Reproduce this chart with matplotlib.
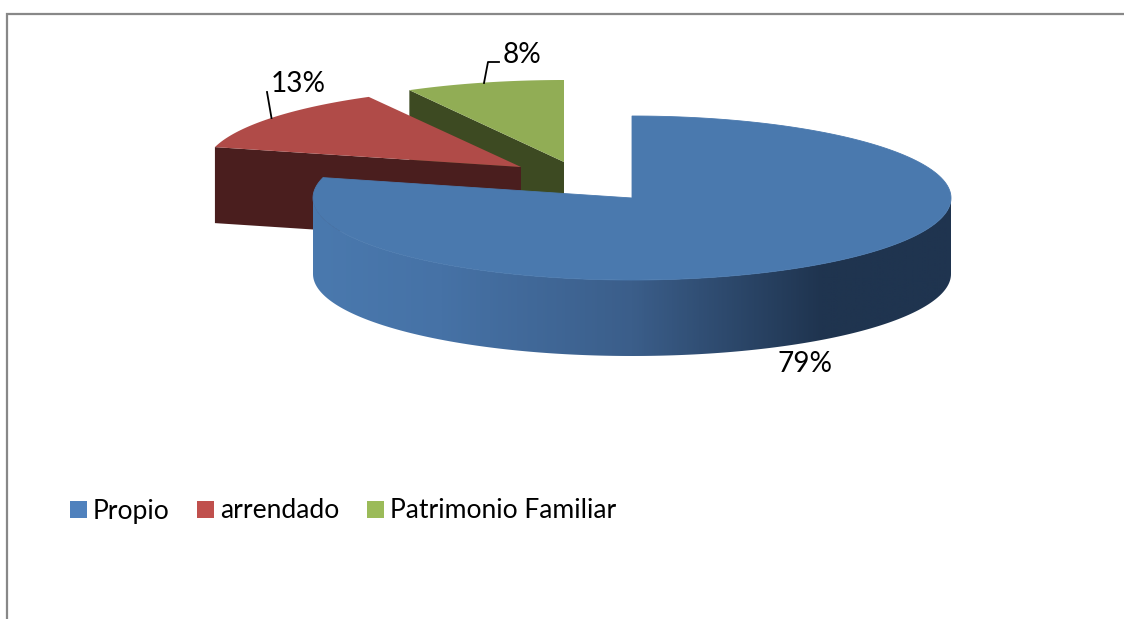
import numpy as np
import matplotlib.pyplot as plt
from matplotlib.colors import LinearSegmentedColormap
from matplotlib.patches import Patch, Polygon

plt.rcParams['font.family'] = ['Lato', 'DejaVu Sans']

categorias = ["Propio", "arrendado", "Patrimonio Familiar"]
valores = [79, 13, 8]
etiquetas = ["79%", "13%", "8%"]

color_top = ["#4a79ae", "#b04b48", "#91ad55"]
color_cut = ["#4a79ae", "#4a1e1e", "#3d4a22"]
color_leyenda = ["#4f81bd", "#c0504d", "#9bbb59"]

# centro y radios de cada porcion (separadas), en pixeles
centros = [(632, 198), (521, 167), (564, 162)]
radios = [(319, 82), (316, 80), (321, 82)]
alto = 76


def punto(i, grados):
    a = np.radians(grados)
    c, (rx, ry) = centros[i], radios[i]
    return c[0] + rx * np.sin(a), c[1] - ry * np.cos(a)


def arco(i, g0, g1):
    g = np.linspace(g0, g1, 200)
    x, y = punto(i, g)
    return np.column_stack([x, y])


fig = plt.figure(figsize=(11.24, 6.19), dpi=100)
ax = fig.add_axes([0, 0, 1, 1])

limites = np.cumsum([0] + valores) / sum(valores) * 360

# verde y rojo primero, el azul queda delante
for i in [2, 1]:
    c = centros[i]
    g0, g1 = limites[i], limites[i + 1]
    x0, y0 = punto(i, g0)
    corte = [(x0, y0), c, (c[0], c[1] + alto), (x0, y0 + alto)]
    ax.add_patch(Polygon(corte, closed=True, fc=color_cut[i], ec="none", zorder=i * -2 + 6))
    tapa = np.vstack([[c], arco(i, g0, g1)])
    ax.add_patch(Polygon(tapa, closed=True, fc=color_top[i], ec="none", zorder=i * -2 + 7))

# lateral azul con degradado
c = centros[0]
rx, ry = radios[0]
arriba = arco(0, 90, 270)
abajo = arriba[::-1] + [0, alto]
lateral = Polygon(np.vstack([arriba, abajo]), closed=True, fc="none", ec="none", zorder=8)
ax.add_patch(lateral)
cmap = LinearSegmentedColormap.from_list(
    "lado",
    [(0, "#4a79ae"), (0.2, "#4672a6"), (0.5, "#3b5e8a"), (0.8, "#1f344f"), (1, "#1f344f")],
)
grad = ax.imshow(np.linspace(0, 1, 640).reshape(1, -1), cmap=cmap, aspect="auto",
                 extent=(c[0] - rx, c[0] + rx, c[1] + ry + alto + 2, c[1] - 2), zorder=8)
grad.set_clip_path(lateral)

tapa = np.vstack([[c], arco(0, limites[0], limites[1])])
ax.add_patch(Polygon(tapa, closed=True, fc=color_top[0], ec="#4a79ae", lw=0.6, zorder=9))

# etiquetas y lineas guia
ax.text(805, 364, etiquetas[0], fontsize=20.2, ha="center", va="center", color="black", zorder=10)
ax.text(298, 84, etiquetas[1], fontsize=20.2, ha="center", va="center", color="black", zorder=10)
ax.text(522, 55, etiquetas[2], fontsize=20.2, ha="center", va="center", color="black", zorder=10)
ax.plot([267, 271.5], [92, 118], color="black", lw=1.3, zorder=10)
ax.plot([484, 488, 499], [83, 62, 62], color="black", lw=1.3, zorder=10)

# marco gris de la imagen
ax.plot([7, 7, 1124], [619, 14, 14], color="#888888", lw=1.6, solid_joinstyle="miter", zorder=1)

handles = [Patch(fc=col, ec="none") for col in color_leyenda]
ax.legend(handles, categorias, loc="center left", bbox_to_anchor=(62, 511),
          bbox_transform=ax.transData, ncol=3, frameon=False, fontsize=19.1,
          handlelength=0.64, handleheight=0.6, handletextpad=0.2,
          columnspacing=1.07, borderpad=0.3, borderaxespad=0)

ax.set_xlim(0, 1124)
ax.set_ylim(619, 0)
ax.axis("off")
fig.savefig("out.png", dpi=100, facecolor="white")
